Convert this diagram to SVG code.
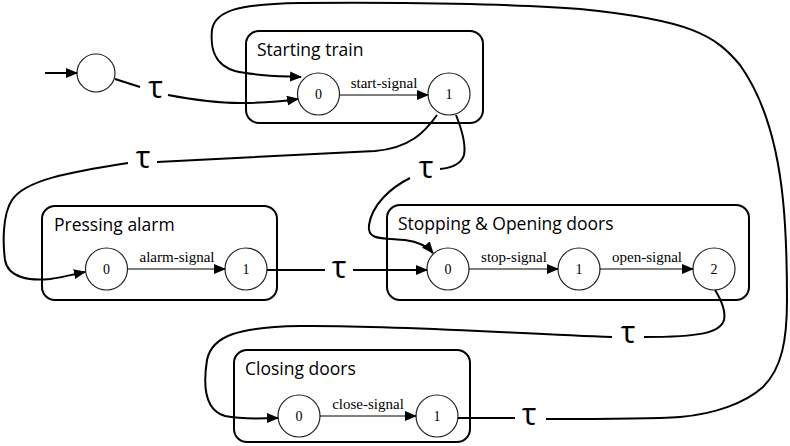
<svg xmlns="http://www.w3.org/2000/svg" width="790" height="446" viewBox="0 0 790 446">
<style>
.box{fill:none;stroke:#000;stroke-width:2}
.st{fill:#fff;stroke:#222;stroke-width:1.2}
.bl{font-family:"Open Sans","Liberation Sans",sans-serif;font-size:17.5px;fill:#000}
.sl{font-family:"Liberation Serif",serif;font-size:14px;fill:#000;text-anchor:middle}
.el{font-family:"Liberation Serif",serif;font-size:15px;fill:#000;text-anchor:middle}
.tau{font-family:"Open Sans","Noto Sans",sans-serif;font-size:31px;fill:#000;text-anchor:middle}
.e{fill:none;stroke:#000;stroke-width:2}
.ei{fill:none;stroke:#000;stroke-width:1}
</style>
<defs>
<marker id="ah" markerUnits="userSpaceOnUse" markerWidth="12" markerHeight="10" refX="11" refY="5" orient="auto">
<path d="M0,0 L12,5 L0,10 Z" fill="#000"/>
</marker>
</defs>
<g id="init"><circle class="st" cx="96" cy="73" r="19"/></g>
<g id="starting-train">
<rect class="box" x="246" y="31" width="237" height="92" rx="13"/>
<text class="bl" x="257" y="56">Starting train</text>
<circle class="st" cx="318.5" cy="94" r="21"/><text class="sl" x="318.5" y="99">0</text>
<circle class="st" cx="449" cy="94" r="21"/><text class="sl" x="449" y="99">1</text>
</g>
<g id="pressing-alarm">
<rect class="box" x="42" y="206" width="235" height="94" rx="13"/>
<text class="bl" x="54" y="231">Pressing alarm</text>
<circle class="st" cx="106.5" cy="269" r="21"/><text class="sl" x="106.5" y="274">0</text>
<circle class="st" cx="246" cy="269" r="21"/><text class="sl" x="246" y="274">1</text>
</g>
<g id="stopping-opening">
<rect class="box" x="387" y="205" width="362" height="95" rx="13"/>
<text class="bl" x="398" y="230">Stopping &amp; Opening doors</text>
<circle class="st" cx="448" cy="269" r="21"/><text class="sl" x="448" y="274">0</text>
<circle class="st" cx="579" cy="269" r="21"/><text class="sl" x="579" y="274">1</text>
<circle class="st" cx="714" cy="269" r="21"/><text class="sl" x="714" y="274">2</text>
</g>
<g id="closing-doors">
<rect class="box" x="234" y="350" width="236" height="92" rx="13"/>
<text class="bl" x="245" y="375">Closing doors</text>
<circle class="st" cx="299" cy="416" r="21"/><text class="sl" x="299" y="421">0</text>
<circle class="st" cx="437" cy="416" r="21"/><text class="sl" x="437" y="421">1</text>
</g>
<g id="connectors">
<path class="e" d="M45,73 L77,73" marker-end="url(#ah)"/>
<path class="e" d="M115,79 L140,87"/>
<text class="tau" x="155.5" y="98">τ</text>
<path class="e" d="M168,95 C200,101 220,103 240,103 C265,103 285,101 298,99" marker-end="url(#ah)"/>
<path class="ei" d="M340,95 L428,95" marker-end="url(#ah)"/>
<text class="el" x="384" y="88">start-signal</text>
<path class="e" d="M437,115 C425,132 410,148 375,151 L157,162"/>
<text class="tau" x="143" y="168">τ</text>
<path class="e" d="M128,163 C70,172 25,180 12,200 C2,215 3,245 5,260 C8,278 30,281 50,279 C65,277 75,274 85,272" marker-end="url(#ah)"/>
<path class="e" d="M456,115 C462,130 466,145 464,155 C461,165 450,168 440,169"/>
<text class="tau" x="426" y="178">τ</text>
<path class="e" d="M410,178 C390,188 372,205 369,225 C367,240 380,238 405,240 C420,242 428,247 433,253" marker-end="url(#ah)"/>
<path class="ei" d="M128,269 L225,269" marker-end="url(#ah)"/>
<text class="el" x="177" y="262">alarm-signal</text>
<path class="e" d="M267,270 L325,270"/>
<text class="tau" x="339" y="278">τ</text>
<path class="e" d="M353,270 L427,270" marker-end="url(#ah)"/>
<path class="ei" d="M469,269 L558,269" marker-end="url(#ah)"/>
<text class="el" x="514" y="262">stop-signal</text>
<path class="ei" d="M600,269 L693,269" marker-end="url(#ah)"/>
<text class="el" x="647" y="262">open-signal</text>
<path class="e" d="M715,290 C720,298 726,310 724,320 C720,333 700,337 644,337"/>
<text class="tau" x="628" y="343">τ</text>
<path class="e" d="M612,337 C520,334 400,325 300,326 C240,327 212,335 207,360 C203,385 205,410 225,416 C245,420 262,418 278,418" marker-end="url(#ah)"/>
<path class="ei" d="M320,416 L416,416" marker-end="url(#ah)"/>
<text class="el" x="368" y="409">close-signal</text>
<path class="e" d="M458,418 L515,418"/>
<text class="tau" x="529" y="425">τ</text>
<path class="e" d="M546,419 C600,419 650,419 680,417 C715,414 745,403 763,387 C782,368 787,340 787,300 C787,260 786,230 783,200 C778,150 765,100 740,65 C715,35 690,20 580,9 C520,4 400,2 300,3 C240,4 215,10 212,30 C210,50 215,65 235,71 C255,76 280,76 301,77" marker-end="url(#ah)"/>
</g>
</svg>
